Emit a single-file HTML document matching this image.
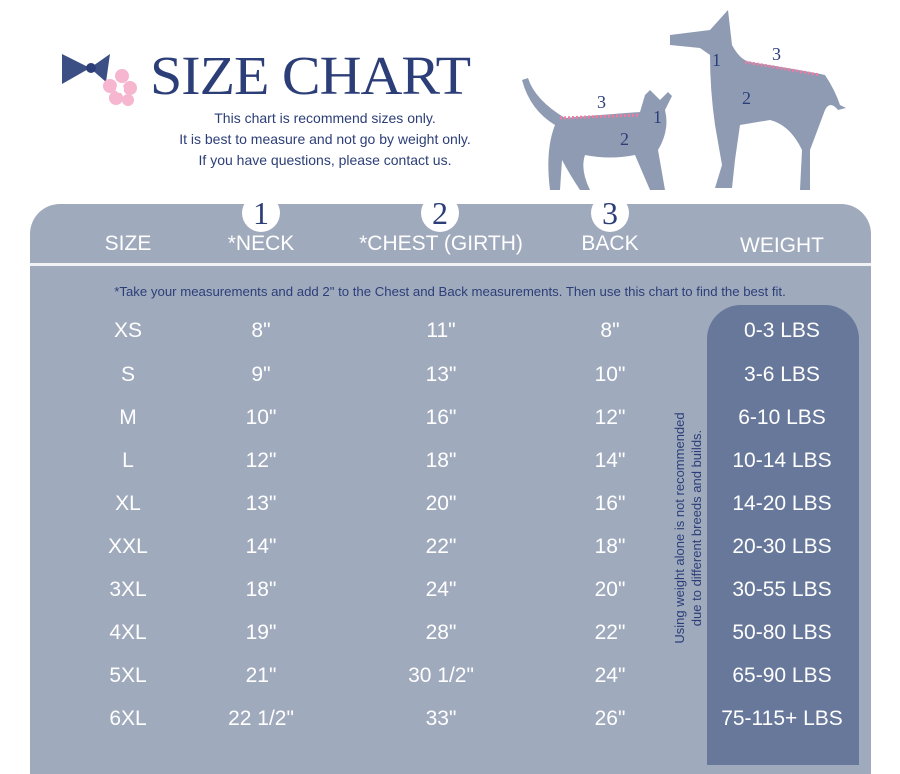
<!DOCTYPE html>
<html><head><meta charset="utf-8"><style>
body{margin:0;width:900px;height:754px;background:#fff;overflow:hidden;position:relative;font-family:"Liberation Sans","DejaVu Sans",sans-serif}
.a{position:absolute}
.panel{left:30px;top:204px;width:841px;height:570px;background:#a0aabd;border-radius:30px 30px 0 0}
.line{left:30px;top:263px;width:841px;height:3px;background:#f1f2f6}
.hd{top:232px;color:#fff;font-size:21px;transform:translate(-50%,0);white-space:nowrap}
.circ{width:38px;height:38px;border-radius:50%;background:#fff;color:#2c3e78;font-family:"Liberation Serif",serif;font-size:32px;text-align:center;line-height:38px;transform:translate(-50%,-50%);top:213px}
.dark{left:707px;top:305px;width:152px;height:460px;background:#67789a;border-radius:34px 34px 0 0}
.c{color:#fff;font-size:21px;transform:translate(-50%,-50%);white-space:nowrap}
.note{left:0;width:900px;top:284px;text-align:center;color:#2c3e78;font-size:13.2px}
.sub{left:130px;width:390px;text-align:center;color:#2c3e78;font-size:14px;line-height:21px;top:108px}
</style></head><body>
<div class="a panel"></div>
<div class="a line"></div>
<div class="a dark"></div>
<div class="a circ" style="left:261px">1</div>
<div class="a circ" style="left:440px">2</div>
<div class="a circ" style="left:610px">3</div>
<div class="a hd" style="left:128px">SIZE</div>
<div class="a hd" style="left:261px">*NECK</div>
<div class="a hd" style="left:441px">*CHEST (GIRTH)</div>
<div class="a hd" style="left:610px">BACK</div>
<div class="a hd" style="left:782px;top:234px">WEIGHT</div>
<div class="a note">*Take your measurements and add 2" to the Chest and Back measurements. Then use this chart to find the best fit.</div>
<div class="a" style="left:30px;top:0;font-family:'Liberation Serif',serif;color:#2c3e78;font-size:58px;left:150px;top:42px;letter-spacing:-1px;transform:scaleY(0.95)">SIZE CHART</div>
<div class="a sub">This chart is recommend sizes only.<br>It is best to measure and not go by weight only.<br>If you have questions, please contact us.</div>
<svg class="a" style="left:60px;top:48px" width="80" height="60"><path d="M2,6 L30,20 L2,36Z M50,6 L30,20 L46,34Z" fill="#3b4f85"/><circle cx="31" cy="20" r="5" fill="#2c3e78"/><g fill="#f6b6cf"><circle cx="62" cy="28" r="7"/><circle cx="50" cy="38" r="7"/><circle cx="70" cy="40" r="7"/><circle cx="56" cy="50" r="7"/><circle cx="68" cy="52" r="6"/></g><circle cx="60" cy="41" r="4" fill="#fff"/></svg>
<svg class="a" style="left:510px;top:0" width="360" height="200">
<g fill="#8f9bb3">
<path d="M12,80 Q20,110 45,125 Q35,150 40,190 L50,190 L52,160 Q60,175 70,190 L80,190 Q70,170 75,155 Q100,160 125,155 L140,190 L155,190 L148,150 Q160,130 155,110 L162,96 L158,92 L150,100 L140,90 L135,95 L130,112 Q90,115 55,118 Q25,100 18,78Z"/>
<path d="M160,35 L200,30 L218,10 L222,45 Q230,60 240,62 Q290,70 315,75 Q325,90 330,105 L336,108 L328,110 Q320,100 315,110 L300,150 L300,190 L290,190 L292,150 Q280,125 260,120 L230,125 L225,160 L222,188 L205,188 L212,165 L205,125 Q200,90 200,55 L190,48 L160,45Z"/>
</g>
<path d="M50,118 L130,115 M235,62 L310,75" stroke="#f07ba3" stroke-width="3" stroke-dasharray="2,2" fill="none"/>
<g fill="#2c3e78" font-family="Liberation Serif,serif" font-size="18"><text x="87" y="108">3</text><text x="143" y="123">1</text><text x="110" y="145">2</text><text x="202" y="66">1</text><text x="262" y="60">3</text><text x="232" y="104">2</text></g>
</svg>
<div class="a c" style="left:128px;top:331px">XS</div><div class="a c" style="left:261px;top:331px">8"</div><div class="a c" style="left:441px;top:331px">11"</div><div class="a c" style="left:610px;top:331px">8"</div><div class="a c" style="left:782px;top:331px">0-3 LBS</div>
<div class="a c" style="left:128px;top:375px">S</div><div class="a c" style="left:261px;top:375px">9"</div><div class="a c" style="left:441px;top:375px">13"</div><div class="a c" style="left:610px;top:375px">10"</div><div class="a c" style="left:782px;top:375px">3-6 LBS</div>
<div class="a c" style="left:128px;top:418px">M</div><div class="a c" style="left:261px;top:418px">10"</div><div class="a c" style="left:441px;top:418px">16"</div><div class="a c" style="left:610px;top:418px">12"</div><div class="a c" style="left:782px;top:418px">6-10 LBS</div>
<div class="a c" style="left:128px;top:461px">L</div><div class="a c" style="left:261px;top:461px">12"</div><div class="a c" style="left:441px;top:461px">18"</div><div class="a c" style="left:610px;top:461px">14"</div><div class="a c" style="left:782px;top:461px">10-14 LBS</div>
<div class="a c" style="left:128px;top:504px">XL</div><div class="a c" style="left:261px;top:504px">13"</div><div class="a c" style="left:441px;top:504px">20"</div><div class="a c" style="left:610px;top:504px">16"</div><div class="a c" style="left:782px;top:504px">14-20 LBS</div>
<div class="a c" style="left:128px;top:547px">XXL</div><div class="a c" style="left:261px;top:547px">14"</div><div class="a c" style="left:441px;top:547px">22"</div><div class="a c" style="left:610px;top:547px">18"</div><div class="a c" style="left:782px;top:547px">20-30 LBS</div>
<div class="a c" style="left:128px;top:590px">3XL</div><div class="a c" style="left:261px;top:590px">18"</div><div class="a c" style="left:441px;top:590px">24"</div><div class="a c" style="left:610px;top:590px">20"</div><div class="a c" style="left:782px;top:590px">30-55 LBS</div>
<div class="a c" style="left:128px;top:633px">4XL</div><div class="a c" style="left:261px;top:633px">19"</div><div class="a c" style="left:441px;top:633px">28"</div><div class="a c" style="left:610px;top:633px">22"</div><div class="a c" style="left:782px;top:633px">50-80 LBS</div>
<div class="a c" style="left:128px;top:676px">5XL</div><div class="a c" style="left:261px;top:676px">21"</div><div class="a c" style="left:441px;top:676px">30 1/2"</div><div class="a c" style="left:610px;top:676px">24"</div><div class="a c" style="left:782px;top:676px">65-90 LBS</div>
<div class="a c" style="left:128px;top:719px">6XL</div><div class="a c" style="left:261px;top:719px">22 1/2"</div><div class="a c" style="left:441px;top:719px">33"</div><div class="a c" style="left:610px;top:719px">26"</div><div class="a c" style="left:782px;top:719px">75-115+ LBS</div>
<div class="a" style="left:688px;top:528px;transform:translate(-50%,-50%) rotate(-90deg);color:#2c3e78;font-size:13px;line-height:17px;text-align:center;white-space:nowrap">Using weight alone is not recommended<br>due to different breeds and builds.</div>
</body></html>
